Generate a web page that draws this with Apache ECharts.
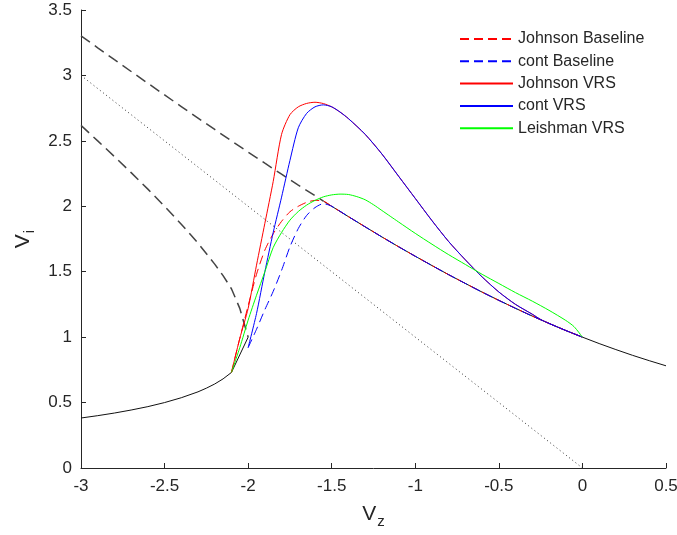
<!DOCTYPE html>
<html><head><meta charset="utf-8">
<script src="https://cdn.jsdelivr.net/npm/echarts@6/dist/echarts.min.js"></script>
<style>html,body{margin:0;padding:0;background:#fff}#c{width:677px;height:535px}</style>
</head><body><div id="c"></div>
<script>
// ---- data ----
// black solid: low-velocity descent branch
const vzLow = [-3.0,-2.9,-2.8,-2.7,-2.6,-2.5,-2.4,-2.3,-2.25,-2.2,-2.15,-2.1,-2.0];
const viLow = [0.382,0.400,0.420,0.443,0.469,0.500,0.537,0.582,0.610,0.642,0.681,0.730,1.000];
// black dashed: upper descent branch
const vzUp = [-3.0,-2.9,-2.8,-2.7,-2.6,-2.5,-2.4,-2.3,-2.2,-2.15,-2.1,-2.05,-2.0];
const viUp = [2.618,2.500,2.380,2.257,2.131,2.000,1.863,1.718,1.558,1.470,1.370,1.220,1.000];
// black dashed: climb branch extended into descent
const vzClimbDash = [-3.0,-2.9,-2.8,-2.7,-2.6,-2.5,-2.4,-2.3,-2.2,-2.1,-2.0,-1.9,-1.8,-1.7,-1.6,-1.55];
const viClimbDash = [3.303,3.211,3.120,3.030,2.940,2.851,2.762,2.674,2.587,2.500,2.414,2.329,2.245,2.162,2.081,2.040];
// black solid: climb branch
const vzClimb = [-1.55,-1.5,-1.4,-1.3,-1.2,-1.1,-1.0,-0.9,-0.8,-0.7,-0.6,-0.5,-0.4,-0.3,-0.2,-0.1,0.0,0.1,0.2,0.3,0.4,0.5];
const viClimb = [2.040,2.000,1.921,1.843,1.766,1.691,1.618,1.547,1.477,1.410,1.344,1.281,1.220,1.161,1.105,1.051,1.000,0.951,0.905,0.861,0.820,0.781];
// black dotted: Vi = -Vz
const vzDot = [-3.0, 0.0];
const viDot = [3.0, 0.0];
// Johnson Baseline (rising part, then joins climb branch)
const vzJohnBase = [-2.1,-2.05,-2.0,-1.95,-1.9,-1.85,-1.8,-1.75,-1.7,-1.65,-1.6,-1.55];
const viJohnBase = [0.73,0.99,1.24,1.48,1.665,1.79,1.885,1.958,2.0,2.03,2.045,2.04];
// cont Baseline
const vzContBase = [-2.0,-1.95,-1.9,-1.85,-1.8,-1.75,-1.7,-1.65,-1.6,-1.55];
const viContBase = [0.92,1.06,1.21,1.35,1.51,1.69,1.83,1.93,1.99,2.02];
// Johnson VRS (rising part)
const vzJohnVrs = [-2.1,-2.05,-2.0,-1.95,-1.9,-1.85,-1.8,-1.75,-1.7,-1.65,-1.6,-1.55,-1.5];
const viJohnVrs = [0.73,0.99,1.22,1.55,1.87,2.19,2.55,2.70,2.76,2.786,2.795,2.785,2.76];
// cont VRS (rising part)
const vzContVrs = [-2.0,-1.95,-1.9,-1.85,-1.8,-1.75,-1.7,-1.65,-1.6,-1.55,-1.5];
const viContVrs = [0.92,1.18,1.50,1.80,2.07,2.35,2.60,2.71,2.76,2.775,2.76];
// shared falling part of Johnson VRS / cont VRS
const vzVrsTail = [-1.45,-1.4,-1.3,-1.2,-1.1,-1.0,-0.9,-0.8,-0.7,-0.6,-0.5,-0.4,-0.3,-0.25,-0.2,-0.1,0.0];
const viVrsTail = [2.72,2.67,2.55,2.40,2.23,2.06,1.89,1.73,1.59,1.46,1.345,1.25,1.175,1.135,1.105,1.051,1.0];
// Leishman VRS
const vzLeish = [-2.1,-2.05,-2.0,-1.95,-1.9,-1.85,-1.8,-1.75,-1.7,-1.65,-1.6,-1.55,-1.5,-1.45,-1.4,-1.35,-1.3,-1.25,-1.2,-1.15,-1.1,-1.0,-0.9,-0.8,-0.7,-0.6,-0.5,-0.4,-0.3,-0.2,-0.1,-0.05,0.0];
const viLeish = [0.73,0.92,1.13,1.32,1.50,1.685,1.80,1.894,1.96,2.009,2.045,2.072,2.087,2.093,2.09,2.074,2.05,2.012,1.968,1.924,1.88,1.793,1.71,1.63,1.555,1.48,1.41,1.34,1.275,1.205,1.128,1.08,1.0];

const legendNames = ['Johnson Baseline','cont Baseline','Johnson VRS','cont VRS','Leishman VRS'];

// ---- build ----
const zip = (xs, ys) => xs.map((x, i) => [x, ys[i]]);
// baseline tails follow the climb branch from -1.5 to 0
const climbTail = zip(vzClimb, viClimb).filter(p => p[0] > -1.52 && p[0] <= 0.0001);

const FONT = '"Liberation Sans", Arial, sans-serif';
const TXT = '#262626';

function line(name, data, color, width, type, smooth) {
  return {
    name, type: 'line', data, showSymbol: false, symbol: 'none', smooth: smooth || false,
    lineStyle: { color, width, type }, itemStyle: { color }, silent: true, animation: false
  };
}

const rich = {
  v: { fontFamily: FONT, fontSize: 21, color: TXT, lineHeight: 24, verticalAlign: 'top' },
  s: { fontFamily: FONT, fontSize: 15, color: TXT, lineHeight: 24, verticalAlign: 'top', padding: [10, 0, 0, 1] }
};

const chart = echarts.init(document.getElementById('c'), null, { renderer: 'canvas' });
chart.setOption({
  backgroundColor: '#fff',
  animation: false,
  grid: { left: 81, right: 11, top: 10, bottom: 67, containLabel: false, outerBoundsMode: 'none' },
  legend: {
    data: legendNames, orient: 'vertical', left: 454, top: 26,
    itemWidth: 53, itemHeight: 14, itemGap: 6.3,
    itemStyle: { opacity: 0 },
    textStyle: { fontFamily: FONT, fontSize: 16, color: TXT, lineHeight: 16 },
    selectedMode: false
  },
  xAxis: {
    type: 'value', min: -3, max: 0.5, interval: 0.5,
    name: '{v|V}{s|z}', nameLocation: 'middle', nameGap: 36,
    nameTextStyle: { rich },
    axisLine: { show: true, onZero: false, lineStyle: { color: TXT, width: 1 } },
    axisTick: { show: true, inside: true, length: 5, lineStyle: { color: TXT } },
    axisLabel: { fontFamily: FONT, fontSize: 17, color: TXT, margin: 10 },
    splitLine: { show: false }
  },
  yAxis: {
    type: 'value', min: 0, max: 3.5, interval: 0.5,
    name: '{v|V}{s|i}', nameLocation: 'middle', nameGap: 44, nameRotate: 90,
    nameTextStyle: { rich },
    axisLine: { show: true, onZero: false, lineStyle: { color: TXT, width: 1 } },
    axisTick: { show: true, inside: true, length: 5, lineStyle: { color: TXT } },
    axisLabel: { fontFamily: FONT, fontSize: 17, color: TXT, margin: 9 },
    splitLine: { show: false }
  },
  series: [
    line('dot', zip(vzDot, viDot), '#333', 1, [1, 3]),
    line('upper', zip(vzUp, viUp), '#444', 1.5, [11, 6]),
    line('climbDash', zip(vzClimbDash, viClimbDash), '#444', 1.5, [11, 6]),
    line('low', zip(vzLow, viLow), '#111', 1, 'solid'),
    line('climb', zip(vzClimb, viClimb), '#111', 1, 'solid'),
    line('Johnson Baseline', zip(vzJohnBase, viJohnBase).concat(climbTail), '#ff0000', 1, [9, 5], 0.25),
    line('cont Baseline', zip(vzContBase, viContBase).concat(climbTail), '#0000ff', 1, [9, 5], 0.25),
    line('Johnson VRS', zip(vzJohnVrs, viJohnVrs).concat(zip(vzVrsTail, viVrsTail)), '#ff0000', 1, 'solid', 0.25),
    line('cont VRS', zip(vzContVrs, viContVrs).concat(zip(vzVrsTail, viVrsTail)), '#0000ff', 1, 'solid', 0.25),
    line('Leishman VRS', zip(vzLeish, viLeish), '#00ff00', 1, 'solid', 0.25)
  ]
});
</script></body></html>
